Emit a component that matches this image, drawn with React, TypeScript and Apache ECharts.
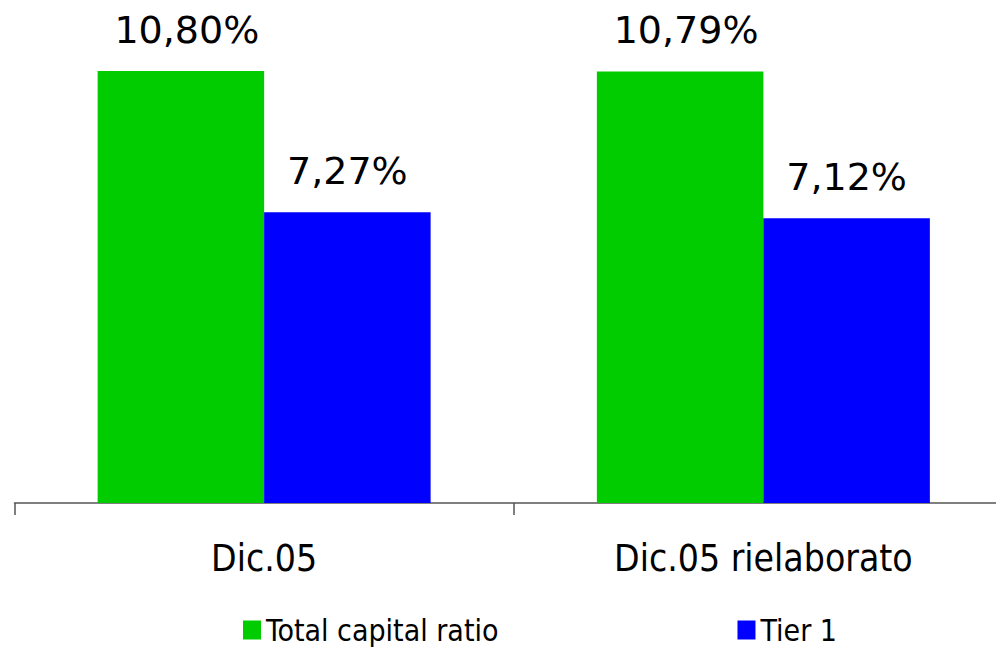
import React, { useEffect, useRef } from "react";
import * as echarts from "echarts";

const categories = ["Dic.05", "Dic.05 rielaborato"];
const totalCapitalRatio = [10.8, 10.79];
const tier1 = [7.27, 7.12];
const seriesNames = ["Total capital ratio", "Tier 1"];

const fmt = (v: number) => v.toFixed(2).replace(".", ",") + "%";

export default function App() {
  const ref = useRef<HTMLDivElement>(null);
  useEffect(() => {
    if (!ref.current) return;
    const chart = echarts.init(ref.current, undefined, { renderer: "svg" });
    const labelStyle = {
      show: true,
      position: "top" as const,
      distance: 22,
      fontFamily: "DejaVu Sans",
      fontSize: 38,
      color: "#000",
      formatter: (p: any) => fmt(p.value),
    };
    chart.setOption({
      animation: false,
      backgroundColor: "#fff",
      grid: { left: 14.5, top: 23, width: 998.5, height: 480 },
      legend: {
        left: 243,
        top: 615,
        padding: 0,
        itemWidth: 18,
        itemHeight: 19,
        itemGap: 239,
        icon: "rect",
        textStyle: { fontFamily: "DejaVu Sans Condensed", fontSize: 30, lineHeight: 30, color: "#000" },
        data: seriesNames,
      },
      xAxis: {
        type: "category",
        data: categories,
        axisLine: { lineStyle: { color: "#555", width: 1.5 } },
        axisTick: { show: true, length: 12, lineStyle: { color: "#555", width: 1.5 } },
        axisLabel: { margin: 37, fontFamily: "DejaVu Sans Condensed", fontSize: 37, color: "#000" },
      },
      yAxis: {
        type: "value",
        min: 0,
        max: 12,
        show: false,
        splitLine: { show: false },
      },
      series: [
        {
          name: seriesNames[0],
          type: "bar",
          data: totalCapitalRatio,
          itemStyle: { color: "#00CC00" },
          barGap: "0%",
          barCategoryGap: "33.3%",
          label: { ...labelStyle, offset: [6, 0] },
        },
        {
          name: seriesNames[1],
          type: "bar",
          data: tier1,
          itemStyle: { color: "#0000FF" },
          barGap: "0%",
          barCategoryGap: "33.3%",
          label: labelStyle,
        },
      ],
    });
    return () => chart.dispose();
  }, []);
  return (
    <div style={{ position: "fixed", left: 0, top: 0, width: 996, height: 647, overflow: "hidden", background: "#fff" }}>
      <div ref={ref} style={{ width: 1020, height: 647 }} />
    </div>
  );
}
